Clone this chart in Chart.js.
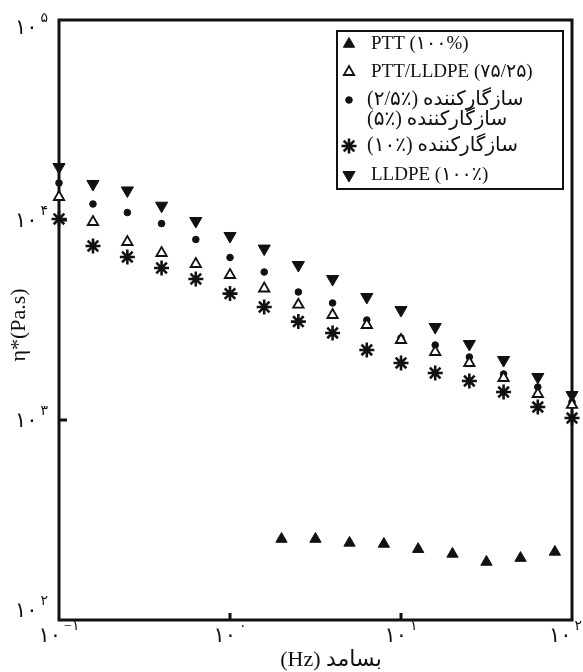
<!DOCTYPE html>
<html>
<head>
<meta charset="utf-8">
<script src="https://cdn.jsdelivr.net/npm/chart.js@4.4.1/dist/chart.umd.min.js"></script>
<style>
  body { margin: 0; background: #fff; }
  #wrap { width: 583px; height: 672px; }
</style>
</head>
<body>
<div id="wrap"><canvas id="c"></canvas></div>
<script>
// frequencies (Hz)
const freq = [0.1, 0.158, 0.251, 0.398, 0.631, 1, 1.585, 2.51, 3.98, 6.31, 10, 15.85, 25.1, 39.8, 63.1, 100];
const freqPtt = [2, 3.16, 5, 7.94, 12.6, 20, 31.6, 50, 79.4];

// complex viscosity (Pa.s)
const ptt = [254, 254, 243, 240, 226, 214, 195, 204, 219];
const blend = [13030, 9772, 7762, 6839, 6026, 5309, 4545, 3771, 3350, 2985, 2512, 2188, 1928, 1622, 1349, 1189];
const comp25 = [15310, 12020, 10900, 9594, 7990, 6494, 5495, 4365, 3846, 3162, 2570, 2371, 2065, 1698, 1462, 1230];
const comp10 = [10120, 7413, 6531, 5754, 5070, 4285, 3673, 3105, 2723, 2239, 1928, 1718, 1567, 1380, 1161, 1023];
const lldpe = [18400, 15140, 14050, 11790, 9886, 8318, 7194, 5957, 5070, 4121, 3548, 2917, 2399, 1995, 1641, 1334];

const legendLabels = ['PTT (۱۰۰%)', 'PTT/LLDPE (۷۵/۲۵)', '(۲/۵٪) سازگارکننده', '(۵٪) سازگارکننده', '(۱۰٪) سازگارکننده', 'LLDPE (۱۰۰٪)'];

const xTicks = [0.1, 1, 10, 100];
const xExp = ['−۱', '۰', '۱', '۲'];
const yTicks = [100, 1000, 10000, 100000];
const yExp = ['۲', '۳', '۴', '۵'];

const FONT = '"Liberation Serif", "DejaVu Sans", serif';
const INK = '#111';

const pts = (xs, ys) => xs.map((x, i) => ({ x: x, y: ys[i] }));

const datasets = [
  { label: legendLabels[0], data: pts(freqPtt, ptt), pointStyle: 'triangle', pointRadius: 6.5, backgroundColor: INK, borderColor: INK, borderWidth: 1 },
  { label: legendLabels[1], data: pts(freq, blend), pointStyle: 'triangle', pointRadius: 6, backgroundColor: '#fff', borderColor: INK, borderWidth: 1.8 },
  { label: legendLabels[2], data: pts(freq, comp25), pointStyle: 'circle', pointRadius: 3.3, backgroundColor: INK, borderColor: INK, borderWidth: 1 },
  { label: legendLabels[4], data: pts(freq, comp10), pointStyle: 'star', pointRadius: 7.5, backgroundColor: INK, borderColor: INK, borderWidth: 2.6 },
  { label: legendLabels[5], data: pts(freq, lldpe), pointStyle: 'triangle', rotation: 180, pointRadius: 7, backgroundColor: INK, borderColor: INK, borderWidth: 1 }
];

function drawPow(ctx, base, exp, x, y, align) {
  ctx.font = '21px ' + FONT;
  const bw = ctx.measureText(base).width;
  ctx.font = '14px ' + FONT;
  const ew = ctx.measureText(exp).width;
  const total = bw + 3 + ew;
  let left = x;
  if (align === 'center') left = x - total / 2;
  if (align === 'right') left = x - total;
  left = Math.min(left, 582 - total);
  ctx.textAlign = 'left';
  ctx.textBaseline = 'middle';
  ctx.font = '21px ' + FONT;
  ctx.fillText(base, left, y);
  ctx.font = '14px ' + FONT;
  ctx.fillText(exp, left + bw + 3, y - 10);
}

const framePlugin = {
  id: 'frame',
  beforeDatasetsDraw(chart) {
    const { ctx, chartArea: a, scales: { x, y } } = chart;
    ctx.save();
    ctx.strokeStyle = INK;
    ctx.fillStyle = INK;
    ctx.lineWidth = 3;
    ctx.strokeRect(a.left, a.top, a.right - a.left, a.bottom - a.top);

    // inward ticks
    ctx.beginPath();
    xTicks.slice(1, -1).forEach(v => {
      const px = x.getPixelForValue(v);
      ctx.moveTo(px, a.bottom);
      ctx.lineTo(px, a.bottom - 7);
    });
    yTicks.slice(1, -1).forEach(v => {
      const py = y.getPixelForValue(v);
      ctx.moveTo(a.left, py);
      ctx.lineTo(a.left + 8, py);
    });
    ctx.stroke();

    // tick labels
    xTicks.forEach((v, i) => drawPow(ctx, '۱۰', xExp[i], x.getPixelForValue(v), a.bottom + 16, 'center'));
    yTicks.forEach((v, i) => {
      let py = y.getPixelForValue(v);
      py = Math.min(Math.max(py + 1, a.top + 8), a.bottom - 9);
      drawPow(ctx, '۱۰', yExp[i], a.left - 11, py, 'right');
    });

    // axis titles
    ctx.textAlign = 'center';
    ctx.textBaseline = 'middle';
    ctx.font = '22px ' + FONT;
    ctx.fillText('(Hz) بسامد', 331, 660);
    ctx.save();
    ctx.translate(19, 325);
    ctx.rotate(-Math.PI / 2);
    ctx.font = '22px ' + FONT;
    ctx.fillText('η*(Pa.s)', 0, 0);
    ctx.restore();
    ctx.restore();
  },
  afterDatasetsDraw(chart) {
    const { ctx } = chart;
    const box = { left: 337, top: 31, right: 563, bottom: 189 };
    ctx.save();
    ctx.fillStyle = '#fff';
    ctx.fillRect(box.left, box.top, box.right - box.left, box.bottom - box.top);
    ctx.strokeStyle = INK;
    ctx.lineWidth = 2;
    ctx.strokeRect(box.left, box.top, box.right - box.left, box.bottom - box.top);

    const rows = [44, 72, 100, 120, 146, 175];
    const order = [0, 1, 2, null, 3, 4];
    ctx.textAlign = 'left';
    ctx.textBaseline = 'middle';
    rows.forEach((ry, i) => {
      const ds = order[i] === null ? null : chart.data.datasets[order[i]];
      if (ds) {
        ctx.fillStyle = ds.backgroundColor;
        ctx.strokeStyle = ds.borderColor;
        ctx.lineWidth = ds.borderWidth;
        Chart.helpers.drawPoint(ctx, {
          pointStyle: ds.pointStyle,
          rotation: ds.rotation || 0,
          radius: ds.pointRadius,
          borderWidth: ds.borderWidth
        }, 349, ry);
      }
      ctx.fillStyle = INK;
      const persian = i >= 2 && i <= 4;
      ctx.font = (persian ? '20px ' : '19px ') + FONT;
      ctx.fillText(legendLabels[i], persian ? 367 : 371, ry);
    });
    ctx.restore();
  }
};

new Chart(document.getElementById('c'), {
  type: 'scatter',
  data: { datasets: datasets },
  options: {
    responsive: true,
    maintainAspectRatio: false,
    animation: false,
    layout: { padding: { left: 59, top: 20, right: 11, bottom: 52 } },
    datasets: { scatter: { clip: false } },
    plugins: { legend: { display: false }, tooltip: { enabled: false } },
    scales: {
      x: { type: 'logarithmic', min: 0.1, max: 100, display: false },
      y: { type: 'logarithmic', min: 100, max: 100000, display: false }
    }
  },
  plugins: [framePlugin]
});
</script>
</body>
</html>
